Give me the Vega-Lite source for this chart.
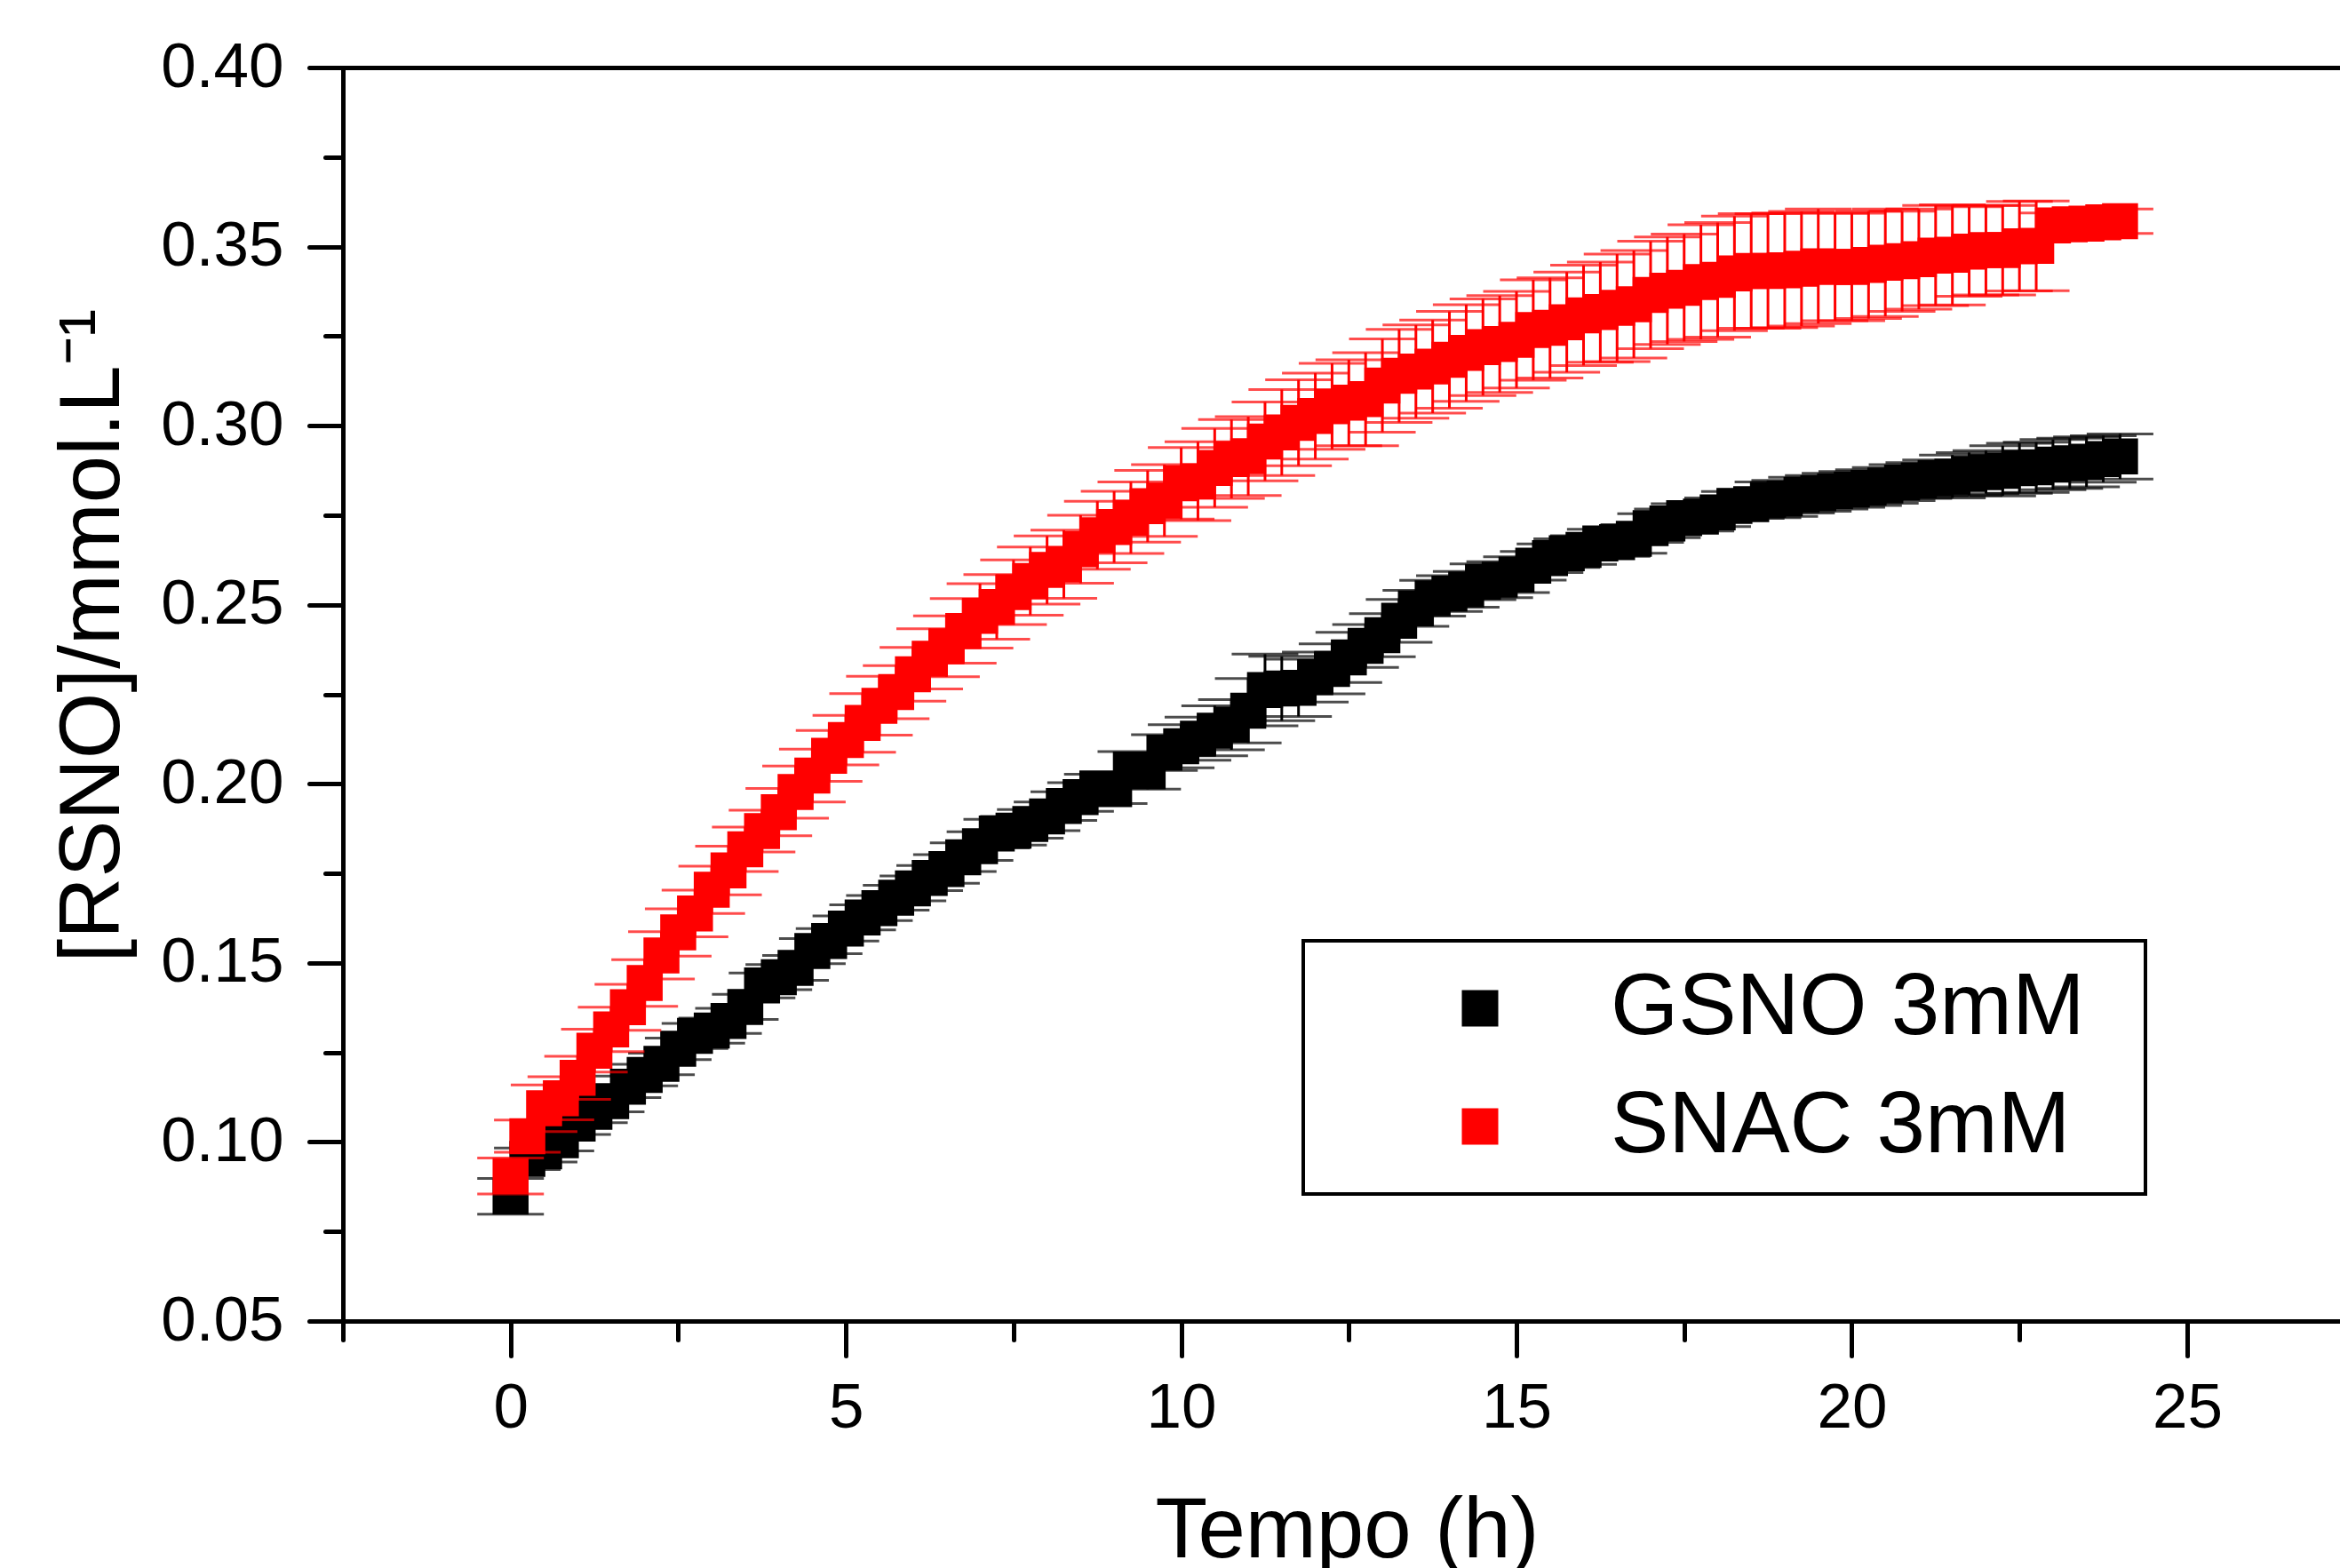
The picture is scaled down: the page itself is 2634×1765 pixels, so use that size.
{
  "$schema": "https://vega.github.io/schema/vega-lite/v6.json",
  "width": 2248,
  "height": 1411,
  "autosize": {"type": "none"},
  "padding": {"left": 386, "top": 76, "right": 0, "bottom": 278},
  "background": "white",
  "config": {
    "view": {"stroke": null},
    "axis": {"grid": false, "domainColor": "black", "tickColor": "black", "labelColor": "black", "titleColor": "black", "labelFont": "Liberation Sans", "titleFont": "Liberation Sans", "titleFontWeight": "normal"},
    "legend": {"orient": "none", "legendX": 1081, "legendY": 983, "symbolType": "square", "symbolSize": 1681, "symbolStrokeWidth": 0, "symbolOpacity": 1, "labelFont": "Liberation Sans", "labelFontSize": 98, "labelColor": "black", "labelLimit": 2000, "padding": 27, "rowPadding": 35, "symbolOffset": 123, "labelOffset": 98, "strokeColor": "black", "strokeWidth": 4, "fillColor": "white"}
  },
  "datasets": {
    "gsno": [
      {"s":"GSNO 3mM","t":0,"v":0.0848,"e":0.005},
      {"s":"GSNO 3mM","t":0.25,"v":0.0953,"e":0.003},
      {"s":"GSNO 3mM","t":0.5,"v":0.0974,"e":0.003},
      {"s":"GSNO 3mM","t":0.75,"v":0.1005,"e":0.003},
      {"s":"GSNO 3mM","t":1,"v":0.1051,"e":0.003},
      {"s":"GSNO 3mM","t":1.25,"v":0.1084,"e":0.003},
      {"s":"GSNO 3mM","t":1.5,"v":0.1114,"e":0.003},
      {"s":"GSNO 3mM","t":1.75,"v":0.1154,"e":0.003},
      {"s":"GSNO 3mM","t":2,"v":0.1187,"e":0.003},
      {"s":"GSNO 3mM","t":2.25,"v":0.1218,"e":0.003},
      {"s":"GSNO 3mM","t":2.5,"v":0.126,"e":0.003},
      {"s":"GSNO 3mM","t":2.75,"v":0.1296,"e":0.0035},
      {"s":"GSNO 3mM","t":3,"v":0.1311,"e":0.0035},
      {"s":"GSNO 3mM","t":3.25,"v":0.1338,"e":0.0035},
      {"s":"GSNO 3mM","t":3.5,"v":0.1377,"e":0.0035},
      {"s":"GSNO 3mM","t":3.75,"v":0.1437,"e":0.0035},
      {"s":"GSNO 3mM","t":4,"v":0.146,"e":0.0035},
      {"s":"GSNO 3mM","t":4.25,"v":0.1486,"e":0.0035},
      {"s":"GSNO 3mM","t":4.5,"v":0.1533,"e":0.0035},
      {"s":"GSNO 3mM","t":4.75,"v":0.1561,"e":0.0035},
      {"s":"GSNO 3mM","t":5,"v":0.1596,"e":0.0035},
      {"s":"GSNO 3mM","t":5.25,"v":0.1627,"e":0.0035},
      {"s":"GSNO 3mM","t":5.5,"v":0.1653,"e":0.0035},
      {"s":"GSNO 3mM","t":5.75,"v":0.1682,"e":0.0035},
      {"s":"GSNO 3mM","t":6,"v":0.1708,"e":0.0035},
      {"s":"GSNO 3mM","t":6.25,"v":0.1737,"e":0.0035},
      {"s":"GSNO 3mM","t":6.5,"v":0.1762,"e":0.004},
      {"s":"GSNO 3mM","t":6.75,"v":0.1795,"e":0.004},
      {"s":"GSNO 3mM","t":7,"v":0.1826,"e":0.004},
      {"s":"GSNO 3mM","t":7.25,"v":0.1861,"e":0.004},
      {"s":"GSNO 3mM","t":7.5,"v":0.1869,"e":0.004},
      {"s":"GSNO 3mM","t":7.75,"v":0.1888,"e":0.004},
      {"s":"GSNO 3mM","t":8,"v":0.1909,"e":0.004},
      {"s":"GSNO 3mM","t":8.25,"v":0.1938,"e":0.004},
      {"s":"GSNO 3mM","t":8.5,"v":0.1963,"e":0.004},
      {"s":"GSNO 3mM","t":8.75,"v":0.1987,"e":0.004},
      {"s":"GSNO 3mM","t":9,"v":0.1985,"e":0.004},
      {"s":"GSNO 3mM","t":9.25,"v":0.204,"e":0.005},
      {"s":"GSNO 3mM","t":9.5,"v":0.2035,"e":0.005},
      {"s":"GSNO 3mM","t":9.75,"v":0.2087,"e":0.005},
      {"s":"GSNO 3mM","t":10,"v":0.2105,"e":0.006},
      {"s":"GSNO 3mM","t":10.25,"v":0.2126,"e":0.006},
      {"s":"GSNO 3mM","t":10.5,"v":0.2148,"e":0.007},
      {"s":"GSNO 3mM","t":10.75,"v":0.2165,"e":0.007},
      {"s":"GSNO 3mM","t":11,"v":0.2204,"e":0.009},
      {"s":"GSNO 3mM","t":11.25,"v":0.2262,"e":0.01},
      {"s":"GSNO 3mM","t":11.5,"v":0.2266,"e":0.009},
      {"s":"GSNO 3mM","t":11.75,"v":0.2268,"e":0.008},
      {"s":"GSNO 3mM","t":12,"v":0.2298,"e":0.007},
      {"s":"GSNO 3mM","t":12.25,"v":0.2321,"e":0.007},
      {"s":"GSNO 3mM","t":12.5,"v":0.2353,"e":0.007},
      {"s":"GSNO 3mM","t":12.75,"v":0.2385,"e":0.006},
      {"s":"GSNO 3mM","t":13,"v":0.2415,"e":0.006},
      {"s":"GSNO 3mM","t":13.25,"v":0.2455,"e":0.006},
      {"s":"GSNO 3mM","t":13.5,"v":0.249,"e":0.005},
      {"s":"GSNO 3mM","t":13.75,"v":0.2518,"e":0.005},
      {"s":"GSNO 3mM","t":14,"v":0.2531,"e":0.005},
      {"s":"GSNO 3mM","t":14.25,"v":0.2543,"e":0.005},
      {"s":"GSNO 3mM","t":14.5,"v":0.2564,"e":0.005},
      {"s":"GSNO 3mM","t":14.75,"v":0.257,"e":0.005},
      {"s":"GSNO 3mM","t":15,"v":0.2584,"e":0.005},
      {"s":"GSNO 3mM","t":15.25,"v":0.2609,"e":0.004},
      {"s":"GSNO 3mM","t":15.5,"v":0.263,"e":0.004},
      {"s":"GSNO 3mM","t":15.75,"v":0.2644,"e":0.004},
      {"s":"GSNO 3mM","t":16,"v":0.2653,"e":0.004},
      {"s":"GSNO 3mM","t":16.25,"v":0.2671,"e":0.004},
      {"s":"GSNO 3mM","t":16.5,"v":0.2675,"e":0.004},
      {"s":"GSNO 3mM","t":16.75,"v":0.2684,"e":0.004},
      {"s":"GSNO 3mM","t":17,"v":0.2714,"e":0.004},
      {"s":"GSNO 3mM","t":17.25,"v":0.2727,"e":0.004},
      {"s":"GSNO 3mM","t":17.5,"v":0.2742,"e":0.004},
      {"s":"GSNO 3mM","t":17.75,"v":0.2746,"e":0.004},
      {"s":"GSNO 3mM","t":18,"v":0.2758,"e":0.004},
      {"s":"GSNO 3mM","t":18.25,"v":0.2776,"e":0.004},
      {"s":"GSNO 3mM","t":18.5,"v":0.2781,"e":0.004},
      {"s":"GSNO 3mM","t":18.75,"v":0.2793,"e":0.005},
      {"s":"GSNO 3mM","t":19,"v":0.2797,"e":0.005},
      {"s":"GSNO 3mM","t":19.25,"v":0.2806,"e":0.005},
      {"s":"GSNO 3mM","t":19.5,"v":0.2811,"e":0.005},
      {"s":"GSNO 3mM","t":19.75,"v":0.2817,"e":0.005},
      {"s":"GSNO 3mM","t":20,"v":0.2822,"e":0.005},
      {"s":"GSNO 3mM","t":20.25,"v":0.2827,"e":0.005},
      {"s":"GSNO 3mM","t":20.5,"v":0.2833,"e":0.005},
      {"s":"GSNO 3mM","t":20.75,"v":0.2841,"e":0.005},
      {"s":"GSNO 3mM","t":21,"v":0.2847,"e":0.005},
      {"s":"GSNO 3mM","t":21.25,"v":0.2854,"e":0.005},
      {"s":"GSNO 3mM","t":21.5,"v":0.2858,"e":0.006},
      {"s":"GSNO 3mM","t":21.75,"v":0.2865,"e":0.006},
      {"s":"GSNO 3mM","t":22,"v":0.287,"e":0.006},
      {"s":"GSNO 3mM","t":22.25,"v":0.2874,"e":0.007},
      {"s":"GSNO 3mM","t":22.5,"v":0.2881,"e":0.007},
      {"s":"GSNO 3mM","t":22.75,"v":0.2884,"e":0.007},
      {"s":"GSNO 3mM","t":23,"v":0.2891,"e":0.007},
      {"s":"GSNO 3mM","t":23.25,"v":0.2895,"e":0.007},
      {"s":"GSNO 3mM","t":23.5,"v":0.2899,"e":0.007},
      {"s":"GSNO 3mM","t":23.75,"v":0.2907,"e":0.0065},
      {"s":"GSNO 3mM","t":24,"v":0.2914,"e":0.0063}
    ],
    "snac": [
      {"s":"SNAC 3mM","t":0,"v":0.0905,"e":0.005},
      {"s":"SNAC 3mM","t":0.25,"v":0.1016,"e":0.0045},
      {"s":"SNAC 3mM","t":0.5,"v":0.1094,"e":0.0065},
      {"s":"SNAC 3mM","t":0.75,"v":0.1122,"e":0.006},
      {"s":"SNAC 3mM","t":1,"v":0.1179,"e":0.006},
      {"s":"SNAC 3mM","t":1.25,"v":0.1255,"e":0.006},
      {"s":"SNAC 3mM","t":1.5,"v":0.1314,"e":0.0062},
      {"s":"SNAC 3mM","t":1.75,"v":0.1376,"e":0.0064},
      {"s":"SNAC 3mM","t":2,"v":0.1444,"e":0.0065},
      {"s":"SNAC 3mM","t":2.25,"v":0.1521,"e":0.0066},
      {"s":"SNAC 3mM","t":2.5,"v":0.1585,"e":0.0066},
      {"s":"SNAC 3mM","t":2.75,"v":0.1638,"e":0.0065},
      {"s":"SNAC 3mM","t":3,"v":0.1704,"e":0.0066},
      {"s":"SNAC 3mM","t":3.25,"v":0.1758,"e":0.0068},
      {"s":"SNAC 3mM","t":3.5,"v":0.1817,"e":0.0062},
      {"s":"SNAC 3mM","t":3.75,"v":0.1868,"e":0.0058},
      {"s":"SNAC 3mM","t":4,"v":0.1921,"e":0.0066},
      {"s":"SNAC 3mM","t":4.25,"v":0.1977,"e":0.0073},
      {"s":"SNAC 3mM","t":4.5,"v":0.2023,"e":0.0074},
      {"s":"SNAC 3mM","t":4.75,"v":0.2078,"e":0.0071},
      {"s":"SNAC 3mM","t":5,"v":0.2122,"e":0.0069},
      {"s":"SNAC 3mM","t":5.25,"v":0.217,"e":0.0082},
      {"s":"SNAC 3mM","t":5.5,"v":0.2218,"e":0.0082},
      {"s":"SNAC 3mM","t":5.75,"v":0.2256,"e":0.0074},
      {"s":"SNAC 3mM","t":6,"v":0.2306,"e":0.0075},
      {"s":"SNAC 3mM","t":6.25,"v":0.2349,"e":0.0084},
      {"s":"SNAC 3mM","t":6.5,"v":0.2384,"e":0.0085},
      {"s":"SNAC 3mM","t":6.75,"v":0.2427,"e":0.009},
      {"s":"SNAC 3mM","t":7,"v":0.2469,"e":0.009},
      {"s":"SNAC 3mM","t":7.25,"v":0.2494,"e":0.009},
      {"s":"SNAC 3mM","t":7.5,"v":0.2535,"e":0.009},
      {"s":"SNAC 3mM","t":7.75,"v":0.2566,"e":0.0095},
      {"s":"SNAC 3mM","t":8,"v":0.2597,"e":0.0095},
      {"s":"SNAC 3mM","t":8.25,"v":0.2613,"e":0.0095},
      {"s":"SNAC 3mM","t":8.5,"v":0.2655,"e":0.0095},
      {"s":"SNAC 3mM","t":8.75,"v":0.2694,"e":0.0095},
      {"s":"SNAC 3mM","t":9,"v":0.2717,"e":0.01},
      {"s":"SNAC 3mM","t":9.25,"v":0.2743,"e":0.01},
      {"s":"SNAC 3mM","t":9.5,"v":0.2775,"e":0.01},
      {"s":"SNAC 3mM","t":9.75,"v":0.2791,"e":0.01},
      {"s":"SNAC 3mM","t":10,"v":0.2839,"e":0.01},
      {"s":"SNAC 3mM","t":10.25,"v":0.2845,"e":0.011},
      {"s":"SNAC 3mM","t":10.5,"v":0.2882,"e":0.011},
      {"s":"SNAC 3mM","t":10.75,"v":0.2907,"e":0.011},
      {"s":"SNAC 3mM","t":11,"v":0.2915,"e":0.011},
      {"s":"SNAC 3mM","t":11.25,"v":0.2956,"e":0.011},
      {"s":"SNAC 3mM","t":11.5,"v":0.2981,"e":0.012},
      {"s":"SNAC 3mM","t":11.75,"v":0.3008,"e":0.012},
      {"s":"SNAC 3mM","t":12,"v":0.3027,"e":0.012},
      {"s":"SNAC 3mM","t":12.25,"v":0.3054,"e":0.012},
      {"s":"SNAC 3mM","t":12.5,"v":0.3064,"e":0.012},
      {"s":"SNAC 3mM","t":12.75,"v":0.3074,"e":0.013},
      {"s":"SNAC 3mM","t":13,"v":0.3112,"e":0.013},
      {"s":"SNAC 3mM","t":13.25,"v":0.3139,"e":0.013},
      {"s":"SNAC 3mM","t":13.5,"v":0.3151,"e":0.013},
      {"s":"SNAC 3mM","t":13.75,"v":0.3165,"e":0.013},
      {"s":"SNAC 3mM","t":14,"v":0.3184,"e":0.0135},
      {"s":"SNAC 3mM","t":14.25,"v":0.3203,"e":0.0135},
      {"s":"SNAC 3mM","t":14.5,"v":0.3219,"e":0.0135},
      {"s":"SNAC 3mM","t":14.75,"v":0.3228,"e":0.0135},
      {"s":"SNAC 3mM","t":15,"v":0.324,"e":0.0135},
      {"s":"SNAC 3mM","t":15.25,"v":0.3267,"e":0.014},
      {"s":"SNAC 3mM","t":15.5,"v":0.3273,"e":0.014},
      {"s":"SNAC 3mM","t":15.75,"v":0.3289,"e":0.014},
      {"s":"SNAC 3mM","t":16,"v":0.3308,"e":0.014},
      {"s":"SNAC 3mM","t":16.25,"v":0.3317,"e":0.014},
      {"s":"SNAC 3mM","t":16.5,"v":0.3329,"e":0.015},
      {"s":"SNAC 3mM","t":16.75,"v":0.3339,"e":0.015},
      {"s":"SNAC 3mM","t":17,"v":0.3365,"e":0.015},
      {"s":"SNAC 3mM","t":17.25,"v":0.3377,"e":0.015},
      {"s":"SNAC 3mM","t":17.5,"v":0.3385,"e":0.015},
      {"s":"SNAC 3mM","t":17.75,"v":0.3401,"e":0.016},
      {"s":"SNAC 3mM","t":18,"v":0.3407,"e":0.016},
      {"s":"SNAC 3mM","t":18.25,"v":0.3425,"e":0.016},
      {"s":"SNAC 3mM","t":18.5,"v":0.3432,"e":0.016},
      {"s":"SNAC 3mM","t":18.75,"v":0.3432,"e":0.016},
      {"s":"SNAC 3mM","t":19,"v":0.3434,"e":0.016},
      {"s":"SNAC 3mM","t":19.25,"v":0.3438,"e":0.016},
      {"s":"SNAC 3mM","t":19.5,"v":0.3445,"e":0.016},
      {"s":"SNAC 3mM","t":19.75,"v":0.3443,"e":0.015},
      {"s":"SNAC 3mM","t":20,"v":0.3443,"e":0.015},
      {"s":"SNAC 3mM","t":20.25,"v":0.3449,"e":0.015},
      {"s":"SNAC 3mM","t":20.5,"v":0.3455,"e":0.015},
      {"s":"SNAC 3mM","t":20.75,"v":0.3459,"e":0.014},
      {"s":"SNAC 3mM","t":21,"v":0.3465,"e":0.014},
      {"s":"SNAC 3mM","t":21.25,"v":0.3475,"e":0.014},
      {"s":"SNAC 3mM","t":21.5,"v":0.3477,"e":0.014},
      {"s":"SNAC 3mM","t":21.75,"v":0.3486,"e":0.0125},
      {"s":"SNAC 3mM","t":22,"v":0.349,"e":0.0125},
      {"s":"SNAC 3mM","t":22.25,"v":0.349,"e":0.0125},
      {"s":"SNAC 3mM","t":22.5,"v":0.3501,"e":0.0125},
      {"s":"SNAC 3mM","t":22.75,"v":0.3502,"e":0.0125},
      {"s":"SNAC 3mM","t":23,"v":0.3559,"e":0.0035},
      {"s":"SNAC 3mM","t":23.25,"v":0.3562,"e":0.0035},
      {"s":"SNAC 3mM","t":23.5,"v":0.3564,"e":0.0035},
      {"s":"SNAC 3mM","t":23.75,"v":0.3568,"e":0.0035},
      {"s":"SNAC 3mM","t":24,"v":0.3571,"e":0.0034}
    ]
  },
  "resolve": {"axis": {"x": "independent", "y": "independent"}},
  "layer": [
    {
      "data": {"name": "gsno"},
      "mark": {"type": "errorbar", "thickness": 3, "ticks": {"size": 75, "thickness": 3}},
      "encoding": {
        "x": {"field": "t", "type": "quantitative",
          "scale": {"domain": [-2.5, 27.28], "nice": false, "zero": false},
          "axis": {"orient": "bottom", "values": [0, 5, 10, 15, 20, 25], "format": "d", "tickSize": 39, "tickWidth": 5, "tickCap": "round", "domainWidth": 5, "domainCap": "square", "labelFontSize": 71, "labelPadding": 24, "labelFlush": false, "labelOverlap": false, "title": "Tempo (h)", "titleFontSize": 96, "titleX": 1130, "titleY": 265, "titleAlign": "center", "titleBaseline": "alphabetic", "titleAnchor": null}},
        "y": {"field": "v", "type": "quantitative",
          "scale": {"domain": [0.05, 0.4], "nice": false, "zero": false},
          "axis": {"orient": "left", "values": [0.05, 0.1, 0.15, 0.2, 0.25, 0.3, 0.35, 0.4], "format": ".2f", "tickSize": 38, "tickWidth": 5, "tickCap": "round", "domainWidth": 5, "domainCap": "square", "labelFontSize": 71, "labelPadding": 29, "labelFlush": false, "labelOverlap": false, "title": "[RSNO]/mmol.L⁻¹", "titleFontSize": 96, "titleAngle": 270, "titleX": -253, "titleY": 639, "titleAlign": "center", "titleBaseline": "alphabetic", "titleAnchor": null}},
        "yError": {"field": "e"},
        "color": {"field": "s", "type": "nominal", "scale": {"domain": ["GSNO 3mM", "SNAC 3mM"], "range": ["#000000", "#ff0000"]},
          "legend": {"title": "⠀", "titleOrient": "right", "titleFontSize": 20, "titlePadding": 26, "titleColor": "white", "symbolType": "square"}}
      }
    },
    {
      "data": {"name": "gsno"},
      "mark": {"type": "point", "shape": "square", "filled": true, "size": 1640, "opacity": 1, "strokeWidth": 0},
      "encoding": {
        "x": {"field": "t", "type": "quantitative",
          "axis": {"orient": "bottom", "values": [-2.5, 2.5, 7.5, 12.5, 17.5, 22.5], "tickSize": 21, "tickWidth": 5, "tickCap": "round", "labels": false, "domain": false, "title": null}},
        "y": {"field": "v", "type": "quantitative",
          "axis": {"orient": "left", "values": [0.075, 0.125, 0.175, 0.225, 0.275, 0.325, 0.375], "tickSize": 20, "tickWidth": 5, "tickCap": "round", "labels": false, "domain": false, "title": null}},
        "color": {"field": "s", "type": "nominal"}
      }
    },
    {
      "data": {"name": "snac"},
      "mark": {"type": "errorbar", "thickness": 3, "ticks": {"size": 75, "thickness": 3}},
      "encoding": {
        "x": {"field": "t", "type": "quantitative",
          "axis": {"orient": "top", "ticks": false, "labels": false, "domainWidth": 5, "domainCap": "square", "title": null}},
        "y": {"field": "v", "type": "quantitative", "axis": null},
        "yError": {"field": "e"},
        "color": {"field": "s", "type": "nominal"}
      }
    },
    {
      "data": {"name": "snac"},
      "mark": {"type": "point", "shape": "square", "filled": true, "size": 1640, "opacity": 1, "strokeWidth": 0},
      "encoding": {
        "x": {"field": "t", "type": "quantitative", "axis": null},
        "y": {"field": "v", "type": "quantitative", "axis": null},
        "color": {"field": "s", "type": "nominal"}
      }
    }
  ]
}
